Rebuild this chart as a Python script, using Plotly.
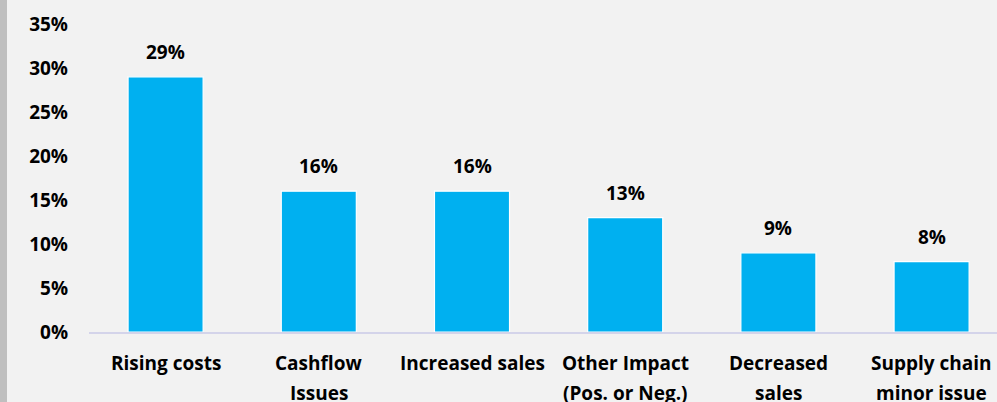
import plotly.graph_objects as go

# Survey results: share of respondents by impact type
line1 = ["Rising costs", "Cashflow", "Increased sales", "Other Impact", "Decreased", "Supply chain"]
line2 = ["", "Issues", "", "(Pos. or Neg.)", "sales", "minor issue"]
values = [29, 16, 16, 13, 9, 8]
y_ticks = [0, 5, 10, 15, 20, 25, 30, 35]

W, H = 997, 402
ML, MR, MT, MB = 89, 0, 24, 70
plot_w = W - ML - MR
cat_w = 153.2  # pixel width of one category slot
x_hi = -0.5 + plot_w / cat_w

FONT = "Open Sans"
FS = 19
BLUE = "#00b0f0"

xs = list(range(len(values)))

fig = go.Figure(
    go.Bar(
        x=xs,
        y=values,
        width=0.49,
        marker=dict(color=BLUE, line=dict(color="white", width=1.2)),
        hoverinfo="skip",
    )
)

annotations = []
# value labels above each bar
for x, v in zip(xs, values):
    annotations.append(dict(
        x=x, y=v, xref="x", yref="y", text=f"<b>{v}%</b>", showarrow=False,
        yshift=25, yanchor="middle", xanchor="center",
        font=dict(family=FONT, size=FS, color="black"),
    ))
# two-line category labels under the axis
for x, a, b in zip(xs, line1, line2):
    for txt, shift in ((a, -31), (b, -61)):
        if txt:
            annotations.append(dict(
                x=x, y=0, xref="x", yref="paper", text=f"<b>{txt}</b>", showarrow=False,
                yshift=shift, yanchor="middle", xanchor="center",
                font=dict(family=FONT, size=FS, color="black"),
            ))

fig.update_layout(
    width=W, height=H,
    margin=dict(l=ML, r=MR, t=MT, b=MB),
    paper_bgcolor="#f2f2f2",
    plot_bgcolor="#f2f2f2",
    showlegend=False,
    bargap=0.51,
    annotations=annotations,
    shapes=[dict(
        type="rect", xref="paper", yref="paper",
        x0=-ML / plot_w, x1=(-ML + 7) / plot_w,
        y0=-MB / (H - MT - MB), y1=1 + MT / (H - MT - MB),
        fillcolor="#bfbfbf", line=dict(width=0), layer="below",
    )],
    xaxis=dict(
        range=[-0.5, x_hi], showticklabels=False, showgrid=False, zeroline=False,
        showline=True, linecolor="#d4d4ea", linewidth=1.5, ticks="", fixedrange=True,
    ),
    yaxis=dict(
        range=[0, 35], tickvals=y_ticks, ticktext=[f"<b>{t}%</b>" for t in y_ticks],
        showgrid=False, zeroline=False, showline=False, ticks="",
        ticklabelstandoff=20,
        tickfont=dict(family=FONT, size=FS, color="black"),
    ),
)

fig.write_html("out.html")
